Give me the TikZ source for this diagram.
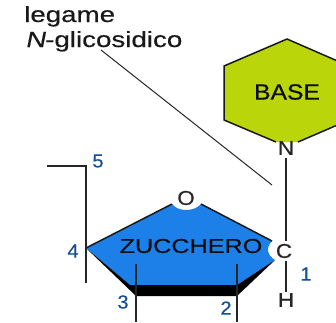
\documentclass[tikz,border=0pt]{standalone}
\usepackage{fontspec}
\setmainfont{Liberation Sans}
\newfontfamily\widefont[FakeStretch=1.26,FakeBold=0.4]{Liberation Sans}
\newfontfamily\wideitalic[FakeStretch=1.26,FakeBold=0.4,FakeSlant=0.2]{Liberation Sans}
\newfontfamily\midfont[FakeStretch=1.12,FakeBold=0.5]{Liberation Sans}
\newfontfamily\numfont[FakeStretch=1.05,FakeBold=0.4]{Liberation Sans}
\definecolor{basegreen}{RGB}{186,214,10}
\definecolor{sugarblue}{RGB}{28,128,232}
\definecolor{numblue}{RGB}{20,80,150}
\tikzset{
  atom/.style={inner sep=0pt,font=\midfont\fontsize{20}{20}\selectfont,text=black!85},
  num/.style={inner sep=0pt,font=\numfont\fontsize{19}{19}\selectfont,text=numblue},
  bond/.style={draw=black!90,line width=1.5pt},
  thin bond/.style={draw=black!85,line width=1.2pt},
  title/.style={inner sep=0pt,anchor=base west,font=\widefont\fontsize{22}{22}\selectfont,text=black!90},
  label box/.style={inner sep=0pt,text=black!95},
}
\begin{document}
\begin{tikzpicture}[x=1pt,y=-1pt]
\useasboundingbox (0,0) rectangle (336,322);
\clip (0,0) rectangle (336,322);
% coordinates
\coordinate (h1) at (287,39);
\coordinate (h2) at (224,66);
\coordinate (h3) at (224,120);
\coordinate (h4) at (276,142);
\coordinate (h5) at (298,142);
\coordinate (h6) at (349,120);
\coordinate (h7) at (349,66);
\coordinate (p4) at (86,248);
\coordinate (pO1) at (172,204);
\coordinate (pO2) at (201,204);
\coordinate (pC1) at (272,241);
\coordinate (pC2) at (275,260);
\coordinate (p2) at (237,285);
\coordinate (p3) at (130,285);
\coordinate (p2b) at (237,296);
\coordinate (p3b) at (136,296);
\coordinate (c5a) at (47,166);
\coordinate (c5) at (86,166);
\coordinate (c4) at (86,283);
\coordinate (c3) at (136,322);
\coordinate (c2) at (237,322);
\coordinate (c3t) at (136,264);
\coordinate (c2t) at (237,264);
\coordinate (leader) at (272,185);
\coordinate (leadst) at (101,50);
% base
\fill[basegreen] (h1) -- (h2) -- (h3) -- (h4) -- (h5) -- (h6) -- (h7) -- cycle;
\draw[bond] (h4) -- (h3) -- (h2) -- (h1) -- (h7) -- (h6) -- (h5);
% sugar
\fill[sugarblue] (p4) -- (pO1) .. controls (178,212) and (194,212) .. (pO2) -- (pC1) .. controls (265,248) and (268,256) .. (pC2) -- (p2) -- (p3) -- cycle;
\draw[bond] (p4) -- (pO1) (pO2) -- (pC1);
\fill[black] (p4) -- (p3b) -- (p2b) -- (pC2) -- (p2) -- (p3) -- cycle;
% nodes
\node[atom] (N) at (286,148) {N};
\node[atom] (C) at (284,251) {C};
\node[atom] (H) at (286,300) {H};
\node[atom] (O) at (186,198) {O};
\node[label box,font=\midfont\fontsize{22}{22}\selectfont] (base) at (287,92) {BASE};
\node[label box,font=\widefont\fontsize{20}{20}\selectfont] (sugar) at (191,246) {ZUCCHERO};
\node[title] (l1) at (24,22) {legame};
\node[title] (l2) at (25,47) {{\wideitalic N}-glicosidico};
\node[num] (n5) at (98,161) {5};
\node[num] (n4) at (73,251) {4};
\node[num] (n3) at (123,302) {3};
\node[num] (n2) at (226,308) {2};
\node[num] (n1) at (306,274) {1};
% connectors
\draw[thin bond,shorten <=3pt,shorten >=3pt] (N.south) -- (N.south |- C.north);
\draw[thin bond,shorten <=3pt,shorten >=1pt] (H.north |- C.south) -- (H.north);
\draw[thin bond] (c5a) -- (c5) -- (c4);
\draw[thin bond] (c3t) -- (c3);
\draw[thin bond] (c2t) -- (c2);
\draw[thin bond,line width=1pt] (leadst) -- (leader);
\end{tikzpicture}
\end{document}
